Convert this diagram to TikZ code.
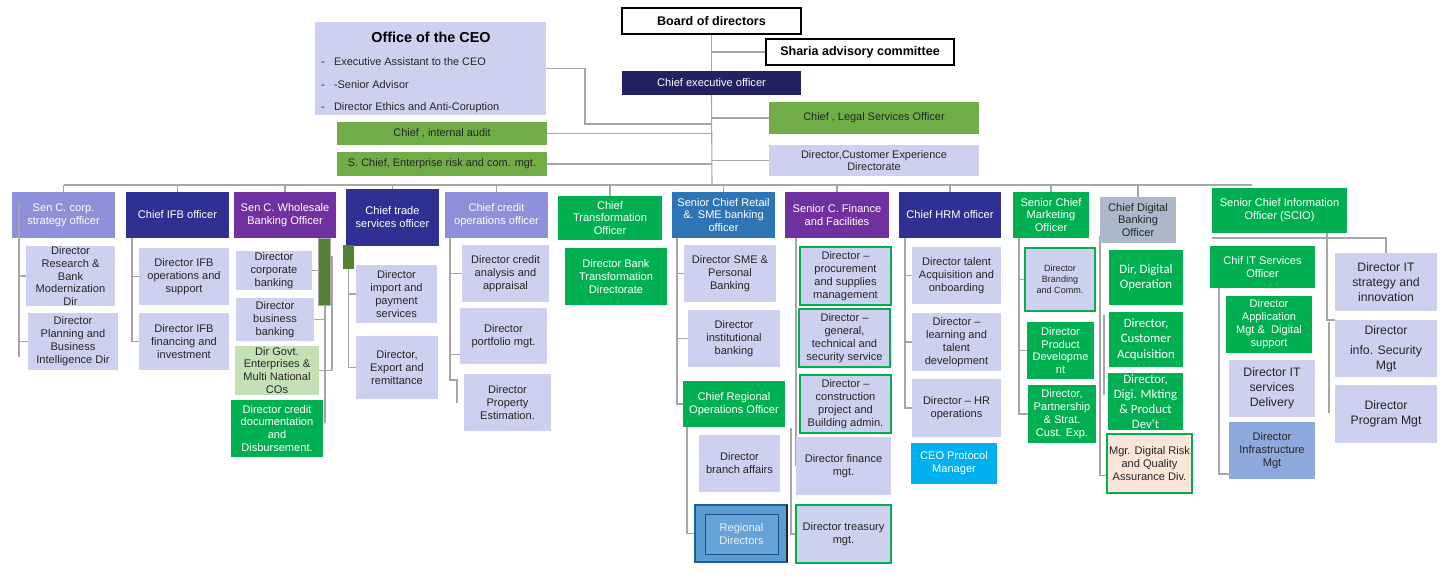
\documentclass[tikz,border=0pt]{standalone}
\usepackage{fontspec}
\setmainfont{Liberation Sans}
\newfontfamily\carl{Carlito}
\definecolor{lav}{HTML}{CDD1EF}
\definecolor{medlav}{HTML}{8E90DA}
\definecolor{dblue}{HTML}{2E3192}
\definecolor{purp}{HTML}{7030A0}
\definecolor{gbright}{HTML}{00B050}
\definecolor{olive}{HTML}{70AD47}
\definecolor{navy}{HTML}{232161}
\definecolor{rblue}{HTML}{2E75B6}
\definecolor{greyblue}{HTML}{ADB9CA}
\definecolor{cyanb}{HTML}{00B0F0}
\definecolor{lgreen}{HTML}{C5E0B4}
\definecolor{peach}{HTML}{FBE5D6}
\definecolor{infra}{HTML}{8EA9DB}
\definecolor{dgreen}{HTML}{548235}
\definecolor{lgrey}{HTML}{A6A6A6}
\definecolor{txt}{HTML}{262626}
\definecolor{regb}{HTML}{5B9BD5}
\newcommand\nfontx{\fontsize{8.3}{9.7}\selectfont}
\newcommand\sfontx{\fontsize{8.2}{9.6}\selectfont}
\newcommand\bfontx{\fontsize{9.4}{11}\selectfont\bfseries}
\newcommand\tfontx{\fontsize{10.8}{12}\selectfont\bfseries}
\newcommand\lfontx{\fontsize{8.2}{9}\selectfont}
\newcommand\mfontx{\fontsize{9.2}{11.2}\selectfont}
\newcommand\kfontx{\fontsize{6.8}{8.2}\selectfont}
\newcommand\cfontx{\carl\fontsize{9.6}{11.4}\selectfont}
\pgfdeclarelayer{back}
\pgfdeclarelayer{bg}
\pgfsetlayers{back,bg,main}
\tikzset{
  box/.style={rectangle, inner sep=0pt, outer sep=0pt, align=center, font=\nfontx, text=txt},
  litem/.style={box, font=\lfontx, anchor=base west},
  wt/.style={text=white},
  gb/.style={draw=gbright, line width=1.5pt},
  conn/.style={draw=lgrey, line width=0.8pt},
}
\newcommand\obox[7]{%
  \pgfmathsetmacro\obW{(#4-#2)*0.75}%
  \pgfmathsetmacro\obH{(#5-#3)*0.75}%
  \node[box,minimum width=\obW pt,minimum height=\obH pt,#6] (#1) at ({(#2+#4)/2},{(#3+#5)/2}) {#7};}
\begin{document}
\begin{tikzpicture}[x=0.75pt,y=-0.75pt]
\begin{pgfonlayer}{back}
\fill[white] (0,0) rectangle (1455,578);
\end{pgfonlayer}
\useasboundingbox (0,0) rectangle (1455,578);
% top
\obox{board}{622}{8}{801}{34}{fill=white,draw=black,line width=0.8pt,font=\bfontx,text=black}{Board of directors}
\obox{sharia}{766}{39}{954}{65}{fill=white,draw=black,line width=0.8pt,font=\bfontx,text=black}{Sharia advisory committee}
\obox{office}{315}{22}{546}{115}{fill=lav}{}
\node[box,font=\tfontx,text=black] (otitle) at (431,37) {Office of the CEO};
\node[litem] (od1) at (321,65) {-};
\node[litem] (oi1) at (334,65) {Executive Assistant to the CEO};
\node[litem] (od2) at (321,88) {-};
\node[litem] (oi2) at (334,88) {-Senior Advisor};
\node[litem] (od3) at (321,110) {-};
\node[litem] (oi3) at (334,110) {Director Ethics and Anti-Coruption};
\obox{ceo}{622}{71}{801}{95}{fill=navy,wt}{Chief executive officer}
\obox{legal}{769}{102}{979}{134}{fill=olive,font=\sfontx}{Chief , Legal Services Officer}
\obox{audit}{337}{122}{547}{145}{fill=olive,font=\sfontx}{Chief , internal audit}
\obox{risk}{337}{152}{547}{176}{fill=olive,font=\sfontx}{S. Chief, Enterprise risk and com. mgt.}
\obox{cx}{769}{145}{979}{176}{fill=lav,font=\sfontx}{Director,Customer Experience\\Directorate}
% second level
\obox{corp}{12}{192}{115}{238}{fill=medlav,wt}{Sen C. corp.\\strategy officer}
\obox{ifb}{126}{192}{229}{238}{fill=dblue,wt}{Chief IFB officer}
\obox{whole}{234}{192}{336}{238}{fill=purp,wt}{Sen C. Wholesale\\Banking Officer}
\obox{trade}{346}{189}{439}{246}{fill=dblue,wt}{Chief trade\\services officer}
\obox{credit}{445}{192}{548}{238}{fill=medlav,wt}{Chief credit\\operations officer}
\obox{transf}{558}{196}{662}{240}{fill=gbright,wt}{Chief\\Transformation\\Officer}
\obox{retail}{672}{192}{775}{238}{fill=rblue,wt}{Senior Chief Retail\\\&. SME banking\\officer}
\obox{fin}{785}{192}{889}{238}{fill=purp,wt}{Senior C. Finance\\and Facilities}
\obox{hrm}{899}{192}{1001}{238}{fill=dblue,wt}{Chief HRM officer}
\obox{mkt}{1013}{192}{1089}{238}{fill=gbright,wt}{Senior Chief\\Marketing\\Officer}
\obox{dig}{1100}{197}{1176}{243}{fill=greyblue}{Chief Digital\\Banking\\Officer}
\obox{scio}{1212}{188}{1347}{233}{fill=gbright,wt}{Senior Chief Information\\Officer (SCIO)}
% corp
\obox{corp1}{26}{247}{115}{305}{fill=lav}{Director\\Research \&\\Bank\\Modernization\\Dir}
\obox{corp2}{28}{313}{118}{370}{fill=lav}{Director\\Planning and\\Business\\Intelligence Dir}
% ifb
\obox{ifb1}{139}{248}{229}{305}{fill=lav}{Director IFB\\operations and\\support}
\obox{ifb2}{139}{313}{229}{370}{fill=lav}{Director IFB\\financing and\\investment}
% wholesale
\obox{wh1}{236}{251}{312}{290}{fill=lav}{Director\\corporate\\banking}
\obox{wh2}{236}{298}{314}{341}{fill=lav}{Director\\business\\banking}
\obox{wh3}{235}{346}{319}{395}{fill=lgreen}{Dir Govt.\\Enterprises \&\\Multi National\\COs}
\obox{wh4}{231}{400}{323}{457}{fill=gbright,wt}{Director credit\\documentation\\and\\Disbursement.}
\obox{bar}{318}{238}{330}{305}{fill=dgreen,draw=lgrey,line width=0.6pt}{}
% trade
\obox{tsq}{343}{245}{354}{269}{fill=dgreen}{}
\obox{tr1}{356}{265}{437}{323}{fill=lav}{Director\\import and\\payment\\services}
\obox{tr2}{356}{336}{438}{399}{fill=lav}{Director,\\Export and\\remittance}
% credit
\obox{cr1}{462}{245}{549}{302}{fill=lav}{Director credit\\analysis and\\appraisal}
\obox{cr2}{460}{308}{547}{364}{fill=lav}{Director\\portfolio mgt.}
\obox{cr3}{464}{374}{551}{431}{fill=lav}{Director\\Property\\Estimation.}
% transformation
\obox{tf1}{565}{248}{667}{305}{fill=gbright,wt}{Director Bank\\Transformation\\Directorate}
% retail
\obox{rt1}{684}{245}{776}{302}{fill=lav}{Director SME \&\\Personal\\Banking}
\obox{rt2}{688}{310}{780}{367}{fill=lav}{Director\\institutional\\banking}
\obox{rt3}{683}{381}{785}{427}{fill=gbright,wt}{Chief Regional\\Operations Officer}
\obox{rt4}{699}{435}{780}{492}{fill=lav}{Director\\branch affairs}
\obox{rt5}{695}{505}{787}{562}{fill=regb,draw=rblue!80!black,line width=0.8pt}{}
\obox{rt5in}{705}{514}{778}{554}{fill=regb!92!white,draw=rblue!70!black,line width=0.5pt,text=white!88!regb}{Regional\\Directors}
\draw[black!85,line width=1.3pt] (rt5.north east) -- (rt5.south east);
% finance
\obox{fi1}{800}{247}{891}{305}{fill=lav,gb}{Director --\\procurement\\and supplies\\management}
\obox{fi2}{799}{309}{890}{367}{fill=lav,gb}{Director --\\general,\\technical and\\security service}
\obox{fi3}{800}{375}{891}{433}{fill=lav,gb}{Director --\\construction\\project and\\Building admin.}
\obox{fi4}{796}{437}{891}{495}{fill=lav}{Director finance\\mgt.}
\obox{fi5}{796}{505}{891}{563}{fill=lav,gb}{Director treasury\\mgt.}
% hrm
\obox{hr1}{912}{247}{1001}{304}{fill=lav}{Director talent\\Acquisition and\\onboarding}
\obox{hr2}{912}{313}{1001}{371}{fill=lav}{Director --\\learning and\\talent\\development}
\obox{hr3}{912}{379}{1001}{437}{fill=lav}{Director -- HR\\operations}
\obox{hr4}{911}{443}{997}{484}{fill=cyanb,wt}{CEO Protocol\\Manager}
% marketing
\obox{mk1}{1025}{248}{1095}{311}{fill=lav,gb,font=\kfontx}{Director\\Branding\\and Comm.}
\obox{mk2}{1027}{322}{1094}{379}{fill=gbright,wt}{Director\\Product\\Developme\\nt}
\obox{mk3}{1028}{385}{1096}{443}{fill=gbright,wt}{Director,\\Partnership\\\& Strat.\\Cust. Exp.}
% digital
\obox{dg1}{1109}{250}{1183}{305}{fill=gbright,wt,font=\cfontx}{Dir, Digital\\Operation}
\obox{dg2}{1109}{312}{1183}{367}{fill=gbright,wt,font=\cfontx}{Director,\\Customer\\Acquisition}
\obox{dg3}{1108}{373}{1183}{430}{fill=gbright,wt,font=\cfontx}{Director,\\Digi. Mkting\\\& Product\\Dev't}
\obox{dg4}{1107}{434}{1192}{493}{fill=peach,gb}{Mgr. Digital Risk\\and Quality\\Assurance Div.}
% scio
\obox{sc1}{1210}{246}{1315}{288}{fill=gbright,wt}{Chif IT Services\\Officer}
\obox{sc2}{1226}{296}{1312}{353}{fill=gbright,wt}{Director\\Application\\Mgt \&~ Digital\\support}
\obox{sc3}{1229}{360}{1315}{417}{fill=lav,font=\mfontx}{Director IT\\services\\Delivery}
\obox{sc4}{1229}{422}{1315}{479}{fill=infra}{Director\\Infrastructure\\Mgt}
\obox{sc5}{1335}{253}{1437}{311}{fill=lav,font=\mfontx}{Director IT\\strategy and\\innovation}
\obox{sc6}{1335}{320}{1437}{377}{fill=lav,font=\mfontx}{Director\\[4pt]info. Security\\Mgt}
\obox{sc7}{1335}{385}{1437}{443}{fill=lav,font=\mfontx}{Director\\Program Mgt}
% connectors
\begin{pgfonlayer}{bg}
\coordinate (bus) at (712,185);
\coordinate (busR) at (1252,185);
\coordinate (j1) at (712,124);
\draw[conn] (board.south) -- (ceo.north);
\draw[conn] (ceo.south) -- (bus);
\draw[conn] (sharia.west) -- (sharia.west -| board.south);
\draw[conn] (office.east) -- ++(39,0) |- (j1);
\draw[conn] (audit.east) -- (audit.east -| j1);
\draw[conn] (risk.east) -- (risk.east -| j1);
\draw[conn] (legal.west) -- (legal.west -| j1);
\draw[conn] (cx.west) -- (cx.west -| j1);
\draw[conn] (corp.north |- bus) -- (busR);
\foreach \n in {corp,ifb,whole,trade,credit,transf,retail,fin,hrm,mkt,dig}
  \draw[conn] (\n.north) -- (\n.north |- bus);
% ifb
\coordinate (k2) at (132,238);
\draw[conn] (k2) |- (ifb2.west);
\draw[conn] (ifb1.west -| k2) -- (ifb1.west);
% wholesale
\coordinate (k3a) at (332,257);
\coordinate (k3b) at (332,370);
\coordinate (k3c) at (325,423);
\draw[conn] (k3a -| bar.east) -- (k3a) -- (k3b);
\draw[conn] (wh1.east) -- (wh1.east -| bar.west);
\draw[conn] (wh3.east) -- (wh3.east -| k3a);
\draw[conn] (bar.south -| k3c) -- (k3c);
\draw[conn] (wh2.east) -- (wh2.east -| k3c);
% trade
\draw[conn] (tsq.south) |- (tr2.west);
\draw[conn] (tr1.west -| tsq.south) -- (tr1.west);
% credit
\coordinate (k5) at (450,238);
\coordinate (k5c) at (457,380);
\coordinate (k5b) at (457,403);
\draw[conn] (k5) |- (k5c) -- (k5b);
\draw[conn] (cr1.west -| k5) -- (cr1.west);
\draw[conn] ([yshift=-14pt]cr2.west -| k5) -- ([yshift=-14pt]cr2.west);
% retail
\coordinate (k7) at (677,238);
\draw[conn] (k7) |- (rt3.west);
\draw[conn] (rt1.west -| k7) -- (rt1.west);
\draw[conn] (rt2.west -| k7) -- (rt2.west);
\coordinate (k7b) at (687,418);
\draw[conn] (k7b) |- (rt5.west);
% finance
\coordinate (k8) at (796,238);
\draw[conn] (k8) -- (k8 |- fi4.west);
\coordinate (k8b) at (791,428);
\draw[conn] (k8b) |- (fi5.west);
% hrm
\coordinate (k9) at (905,238);
\draw[conn] (k9) |- (hr3.west);
\draw[conn] (hr1.west -| k9) -- (hr1.west);
\draw[conn] (hr2.west -| k9) -- (hr2.west);
% marketing
\coordinate (k10) at (1019,238);
\draw[conn] (k10) |- (mk3.west);
\draw[conn] (mk1.west -| k10) -- (mk1.west);
\draw[conn] (mk2.west -| k10) -- (mk2.west);
% digital
\coordinate (k11) at (1100,236);
\draw[conn] (k11) |- ([yshift=-9pt]dg4.west);
\coordinate (k11b) at (1104,315);
\coordinate (k11c) at (1104,395);
\draw[conn] (k11b) -- (k11c);
% scio
\coordinate (k12) at (1212,238);
\draw[conn] (k12) -| (sc5.north);
\coordinate (k12b) at (1327,233);
\draw[conn] (k12b) |- (sc6.north west);
\coordinate (k12c) at (1329,322);
\coordinate (k12d) at (1329,413);
\draw[conn] (k12c) -- (k12d);
\coordinate (k12e) at (1219,288);
\draw[conn] (k12e) |- ([yshift=-17.6pt]sc4.west);
\end{pgfonlayer}
% corp trunk drawn over its box
\coordinate (k1) at (19,202);
\coordinate (k1b) at (19,357);
\draw[conn] (k1) -- (k1b);
\draw[conn] (corp1.west -| k1) -- (corp1.west);
\draw[conn] (corp2.west -| k1) -- (corp2.west);
\end{tikzpicture}
\end{document}
